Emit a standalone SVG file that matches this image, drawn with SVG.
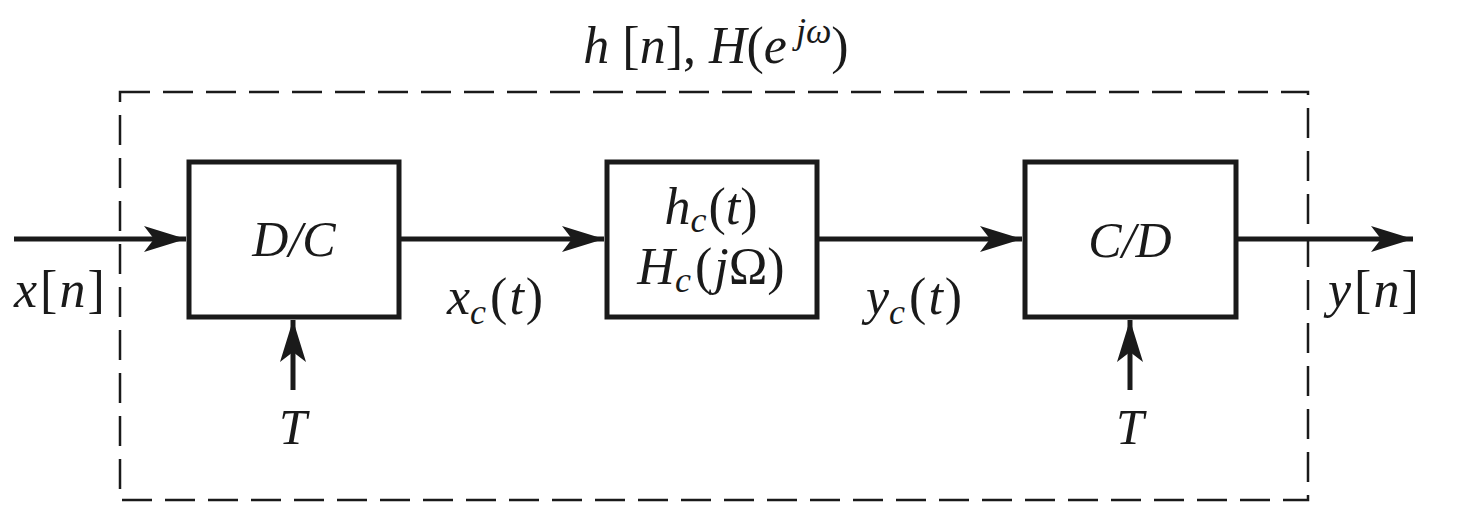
<svg xmlns="http://www.w3.org/2000/svg" width="1472" height="518" viewBox="0 0 1472 518">
<style>
.box{fill:#fff;stroke:#1a1a1a;stroke-width:5}
.wire{stroke:#1a1a1a;stroke-width:5;fill:none}
.dash{fill:none;stroke:#1a1a1a;stroke-width:2.5;stroke-dasharray:30 13}
text{font-family:"Liberation Serif","Times New Roman",serif;font-size:52px;fill:#1a1a1a}
.i{font-style:italic}
.m{font-size:50px}
.sub{font-size:36px;font-style:italic}
</style>
<defs>
<marker id="ah" markerUnits="userSpaceOnUse" markerWidth="44" markerHeight="28" refX="42" refY="13" orient="auto">
<path d="M0,0 L42,13 L0,26 L10,13 Z" fill="#1a1a1a"/>
</marker>
</defs>
<rect class="dash" x="120" y="92" width="1188" height="408"/>
<g id="connectors">
<line class="wire" x1="14" y1="239" x2="186" y2="239" marker-end="url(#ah)"/>
<line class="wire" x1="400" y1="239" x2="604" y2="239" marker-end="url(#ah)"/>
<line class="wire" x1="818" y1="239" x2="1022" y2="239" marker-end="url(#ah)"/>
<line class="wire" x1="1237" y1="239" x2="1413" y2="239" marker-end="url(#ah)"/>
<line class="wire" x1="293" y1="390" x2="293" y2="320" marker-end="url(#ah)"/>
<line class="wire" x1="1130" y1="390" x2="1130" y2="320" marker-end="url(#ah)"/>
</g>
<g id="dc">
<rect class="box" x="189" y="162" width="210" height="155"/>
<text x="294" y="256" text-anchor="middle" class="i m">D/C</text>
</g>
<g id="filter">
<rect class="box" x="607" y="162" width="210" height="155"/>
<text x="711" y="224" text-anchor="middle"><tspan class="i">h</tspan><tspan class="sub" dy="8">c</tspan><tspan dy="-8" dx="2">(</tspan><tspan class="i">t</tspan>)</text>
<text x="711" y="284" text-anchor="middle"><tspan class="i">H</tspan><tspan class="sub" dy="8">c</tspan><tspan dy="-8" dx="4">(</tspan><tspan class="i" dx="2">j</tspan>Ω)</text>
</g>
<g id="cd">
<rect class="box" x="1025" y="162" width="211" height="155"/>
<text x="1130" y="257" text-anchor="middle" class="i m">C/D</text>
</g>
<g id="labels">
<text x="716" y="63" text-anchor="middle"><tspan class="i">h</tspan> [<tspan class="i">n</tspan>], <tspan class="i">H</tspan>(<tspan class="i">e</tspan><tspan class="sub" dy="-20"> jω</tspan><tspan dy="20">)</tspan></text>
<text x="14" y="307"><tspan class="i">x</tspan><tspan dx="3">[</tspan><tspan class="i" dx="2">n</tspan><tspan dx="2">]</tspan></text>
<text x="447" y="314"><tspan class="i">x</tspan><tspan class="sub" dy="10">c</tspan><tspan dy="-10" dx="4">(</tspan><tspan class="i" dx="2">t</tspan><tspan dx="2">)</tspan></text>
<text x="866" y="314"><tspan class="i">y</tspan><tspan class="sub" dy="10">c</tspan><tspan dy="-10" dx="4">(</tspan><tspan class="i" dx="2">t</tspan><tspan dx="2">)</tspan></text>
<text x="1328" y="307"><tspan class="i">y</tspan><tspan dx="3">[</tspan><tspan class="i" dx="2">n</tspan><tspan dx="2">]</tspan></text>
<text x="293" y="444" text-anchor="middle" class="i m">T</text>
<text x="1130" y="444" text-anchor="middle" class="i m">T</text>
</g>
</svg>
